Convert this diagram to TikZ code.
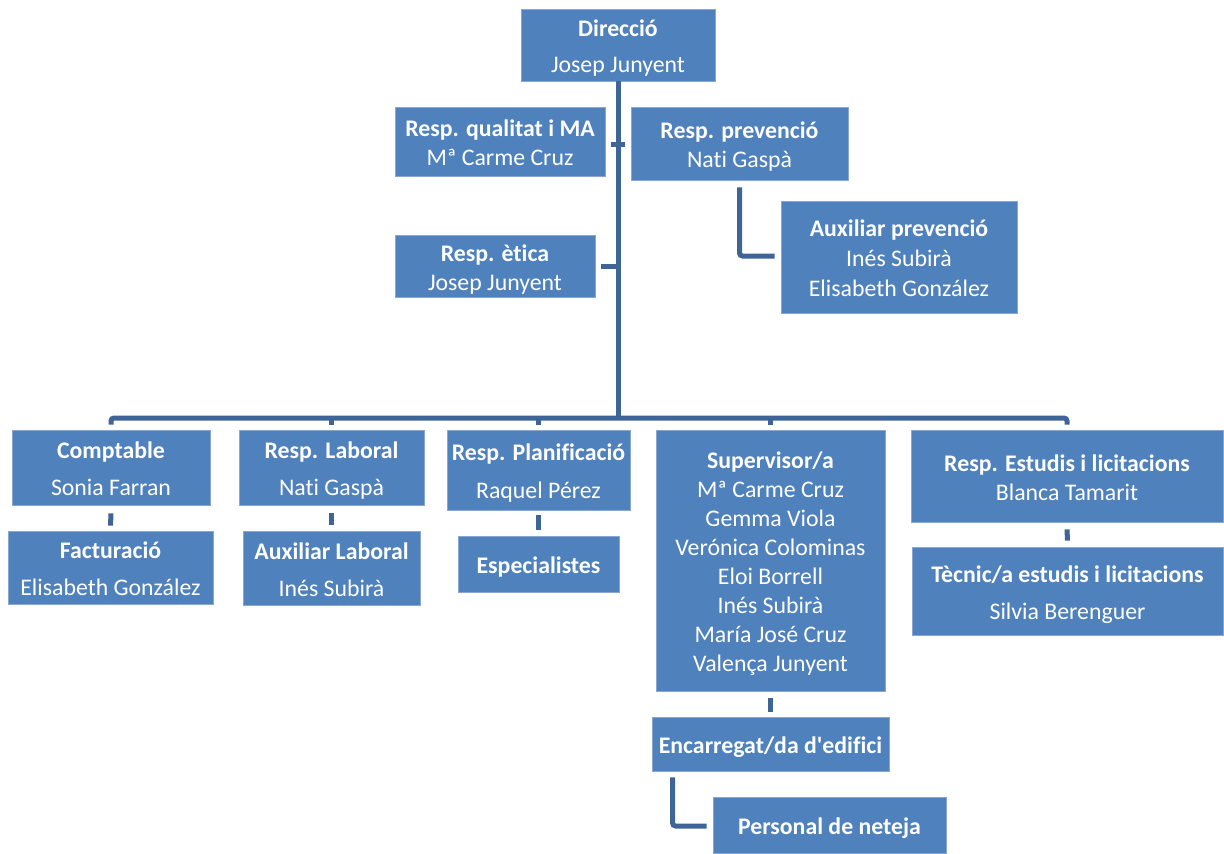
\documentclass[tikz,border=0pt]{standalone}
\usepackage{fontspec}
\setmainfont{Carlito}[Ligatures={NoCommon}]
\usetikzlibrary{calc}
\definecolor{boxblue}{HTML}{4F81BD}
\definecolor{connblue}{HTML}{3E6498}
\definecolor{boxedge}{HTML}{89A7D3}
\newcommand{\ttop}{\rule{0pt}{26pt}}
\newcommand{\tbot}{\rule[-7pt]{0pt}{7pt}}
\begin{document}
\begin{tikzpicture}[x=1pt,y=-1pt,
  orgbox/.style={rectangle, fill=boxblue, draw=boxedge, line width=0.8pt, text=white,
     align=center, inner sep=0pt, font=\fontsize{23.8}{29}\selectfont},
  conn/.style={draw=connblue, line width=5pt, rounded corners=3pt}]
\useasboundingbox (0,0) rectangle (1224,854);
% boxes
\node[orgbox, minimum width=194, minimum height=72] (dir) at (618,45) {\ttop\textbf{Direcció}\\[7pt]Josep Junyent\tbot};
\node[orgbox, minimum width=210, minimum height=69] (qual) at (500,141.5) {\ttop\textbf{Resp. qualitat i MA}\\Mª Carme Cruz\tbot};
\node[orgbox, minimum width=217, minimum height=73] (prev) at (739.5,143.5) {\ttop\textbf{Resp. prevenció}\\Nati Gaspà\tbot};
\node[orgbox, minimum width=236, minimum height=112] (auxprev) at (899,257) {\ttop\textbf{Auxiliar prevenció}\\[1pt]Inés Subirà\\[1pt]Elisabeth González\tbot};
\node[orgbox, minimum width=200, minimum height=59] (etica) at (495,266.5) {\ttop\textbf{Resp. ètica}\\Josep Junyent\tbot};
\node[orgbox, minimum width=198, minimum height=75] (compt) at (111,467.5) {\ttop\textbf{Comptable}\\[8pt]Sonia Farran\tbot};
\node[orgbox, minimum width=205, minimum height=73] (fact) at (110.5,567.5) {\ttop\textbf{Facturació}\\[8pt]Elisabeth González\tbot};
\node[orgbox, minimum width=185, minimum height=75] (lab) at (331.5,467.5) {\ttop\textbf{Resp. Laboral}\\[8pt]Nati Gaspà\tbot};
\node[orgbox, minimum width=177, minimum height=74] (auxlab) at (331.5,568) {\ttop\textbf{Auxiliar Laboral}\\[8pt]Inés Subirà\tbot};
\node[orgbox, minimum width=183, minimum height=80] (plan) at (538.5,470) {\ttop\textbf{Resp. Planificació}\\[9pt]Raquel Pérez\tbot};
\node[orgbox, minimum width=161, minimum height=56] (espec) at (538.5,564) {\ttop\textbf{Especialistes}\tbot};
\node[orgbox, minimum width=229, minimum height=261] (sup) at (770.5,560.5) {\ttop\textbf{Supervisor/a}\\Mª Carme Cruz\\Gemma Viola\\Verónica Colominas\\Eloi Borrell\\Inés Subirà\\María José Cruz\\Valença Junyent\tbot};
\node[orgbox, minimum width=237, minimum height=54] (enc) at (770.5,744) {\ttop\textbf{Encarregat/da d\textquotesingle edifici}\tbot};
\node[orgbox, minimum width=233, minimum height=56] (pers) at (829.5,825) {\ttop\textbf{Personal de neteja}\tbot};
\node[orgbox, minimum width=312, minimum height=92] (estud) at (1067,476) {\ttop\textbf{Resp. Estudis i licitacions}\\Blanca Tamarit\tbot};
\node[orgbox, minimum width=311, minimum height=88] (tec) at (1067.5,591) {\ttop\textbf{Tècnic/a estudis i licitacions}\\[8pt]Silvia Berenguer\tbot};
% connectors
\coordinate (bus) at (618,418);
\draw[conn] (dir.south) -- (bus);
\draw[conn] ($(qual.east)+(6,2.5)$) -- ($(prev.west)+(-6,0.5)$);
\draw[conn] ([xshift=6pt]etica.east) -- (dir.south |- etica.east);
\draw[conn] ([yshift=-7pt]prev.south) |- ([xshift=-6pt,yshift=1pt]auxprev.west);
\draw[conn] ([yshift=5pt]compt.north) |- (bus) -| ([yshift=5pt]estud.north);
\draw[conn] ([yshift=5pt]lab.north) -- (lab.north |- bus);
\draw[conn] ([yshift=5pt]plan.north) -- (plan.north |- bus);
\draw[conn] ([yshift=5pt]sup.north) -- (sup.north |- bus);
\draw[conn] ([yshift=-8pt]compt.south) -- ([yshift=5pt]fact.north);
\draw[conn] ([yshift=-8pt]lab.south) -- ([yshift=6pt]auxlab.north);
\draw[conn] ([yshift=-5pt]plan.south) -- ([yshift=6pt]espec.north);
\draw[conn] ([yshift=-7pt]estud.south) -- ([yshift=6pt]tec.north);
\draw[conn] ([yshift=-7pt]sup.south) -- ([yshift=5pt]enc.north);
\draw[conn] ($(enc.south west)+(21,6)$) |- ($(pers.west)+(-6,1)$);
\end{tikzpicture}
\end{document}
